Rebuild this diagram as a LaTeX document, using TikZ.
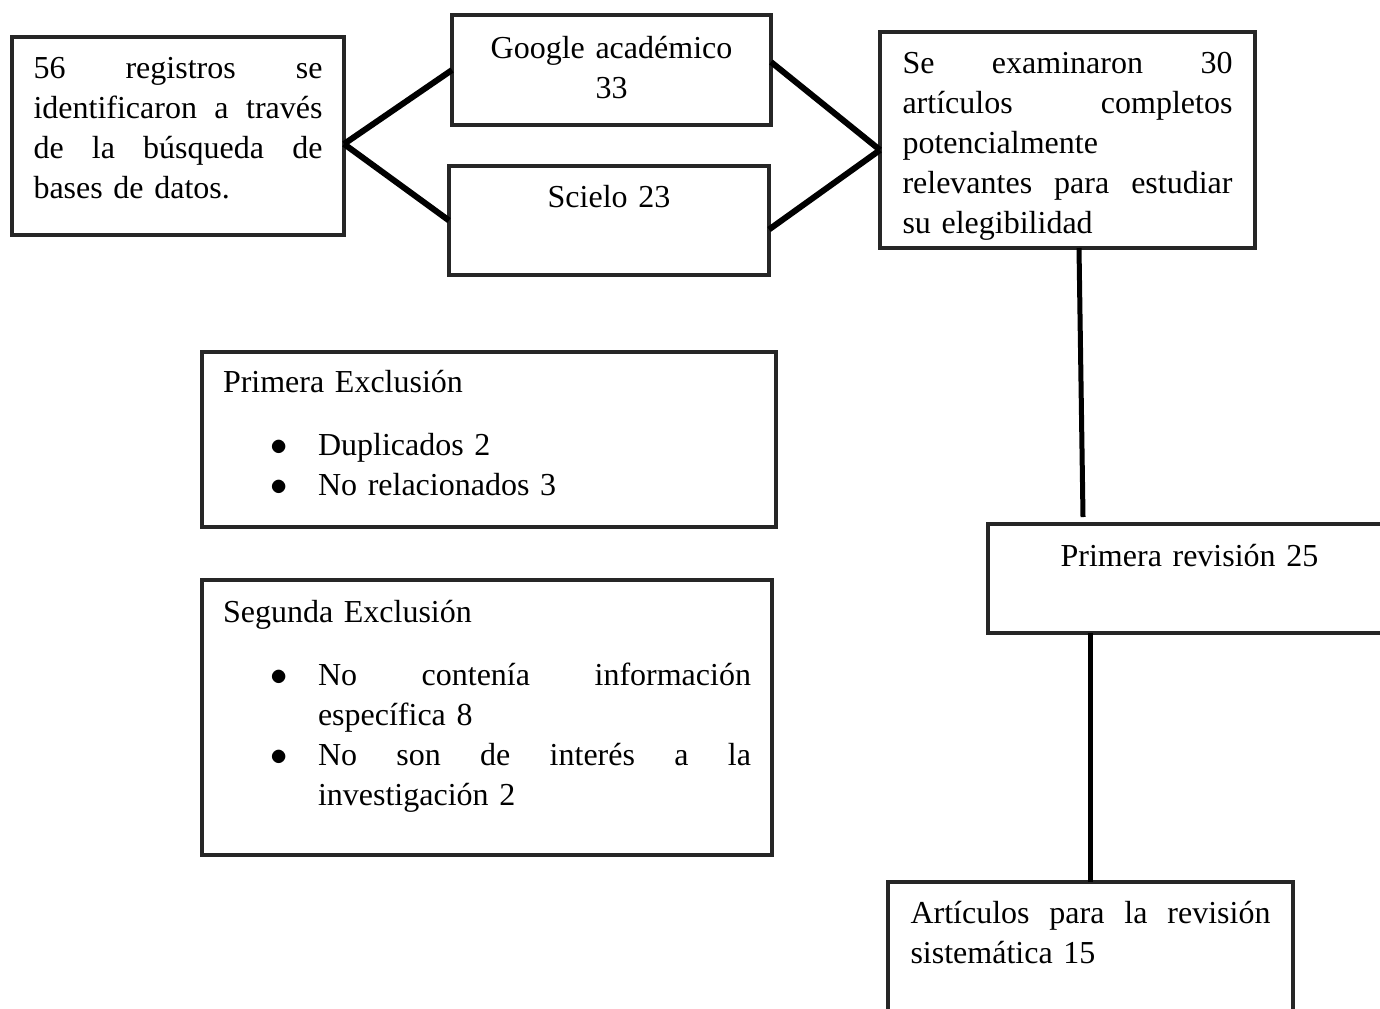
\documentclass[tikz,border=0pt]{standalone}
\usepackage{fontspec}
\setmainfont{Liberation Serif}
\newcommand{\punto}{\hspace*{23.75pt}\makebox[23.75pt][l]{$\bullet$}}
\newcommand{\sangria}{\hspace*{47.5pt}}

\begin{document}
\begin{tikzpicture}[x=0.5pt, y=-0.5pt,
  caja/.style={draw=black!85, line width=1.8pt, anchor=north west, outer sep=0pt,
    inner ysep=0pt, inner xsep=11pt, align=left, text height=20.5pt,
    font=\fontsize{16}{20}\selectfont},
  union/.style={line width=3pt}]
\useasboundingbox (0,0) rectangle (1380,1008);

% fuentes de busqueda
\node[caja, text width=144.5pt, inner xsep=10.75pt, text depth=78.5pt] (busqueda) at (12,37)
   {56\hfill registros\hfill se\\identificaron\hfill a\hfill través\\de\hfill la\hfill búsqueda\hfill de\\bases de datos.};
\node[caja, align=center, text width=137.5pt, text height=21.5pt, text depth=33.5pt] (google) at (452,15)
   {Google académico\\33};
\node[caja, align=center, text width=138pt, text depth=34pt] (scielo) at (449,166) {Scielo 23};
\node[caja, text width=165pt, inner xsep=11.25pt, text depth=87.5pt] (examinados) at (880,32)
   {Se\hfill examinaron\hfill 30\\artículos\hfill completos\\potencialmente\\relevantes\hfill para\hfill estudiar\\su elegibilidad};

% exclusiones
\node[caja, text width=266pt, inner xsep=10.5pt, text height=20pt, text depth=67.5pt] (exclusion1) at (202,352)
   {Primera Exclusión\\[11.5pt]\punto Duplicados 2\\\punto No relacionados 3};
\node[caja, text width=264pt, inner xsep=10.5pt, text height=21pt, text depth=116.5pt] (exclusion2) at (202,580)
   {Segunda Exclusión\\[11.5pt]\punto No\hfill contenía\hfill información\\\sangria específica 8\\\punto No\hfill son\hfill de\hfill interés\hfill a\hfill la\\\sangria investigación 2};

% revision
\node[caja, align=center, text width=179.5pt, text height=21pt, text depth=33.5pt] (revision) at (988,524)
   {Primera revisión 25};
\node[caja, text width=180pt, inner xsep=11.25pt, text depth=54.5pt] (articulos) at (888,882)
   {Artículos\hfill para\hfill la\hfill revisión\\sistemática 15};

\draw[union] ([yshift=-4pt]busqueda.east) -- (google.west);
\draw[union] ([yshift=-4pt]busqueda.east) -- (scielo.west);
\draw[union] ([yshift=4pt]google.east) -- ([yshift=-5pt]examinados.west);
\draw[union] ([yshift=-4.5pt]scielo.east) -- ([yshift=-5pt]examinados.west);
\draw[line width=2.5pt] ([xshift=5.75pt]examinados.south) -- ([xshift=47.5pt,yshift=3.5pt]revision.north west);
\draw[line width=2.5pt] (articulos.north) -- (articulos.north |- revision.south);
\end{tikzpicture}
\end{document}
